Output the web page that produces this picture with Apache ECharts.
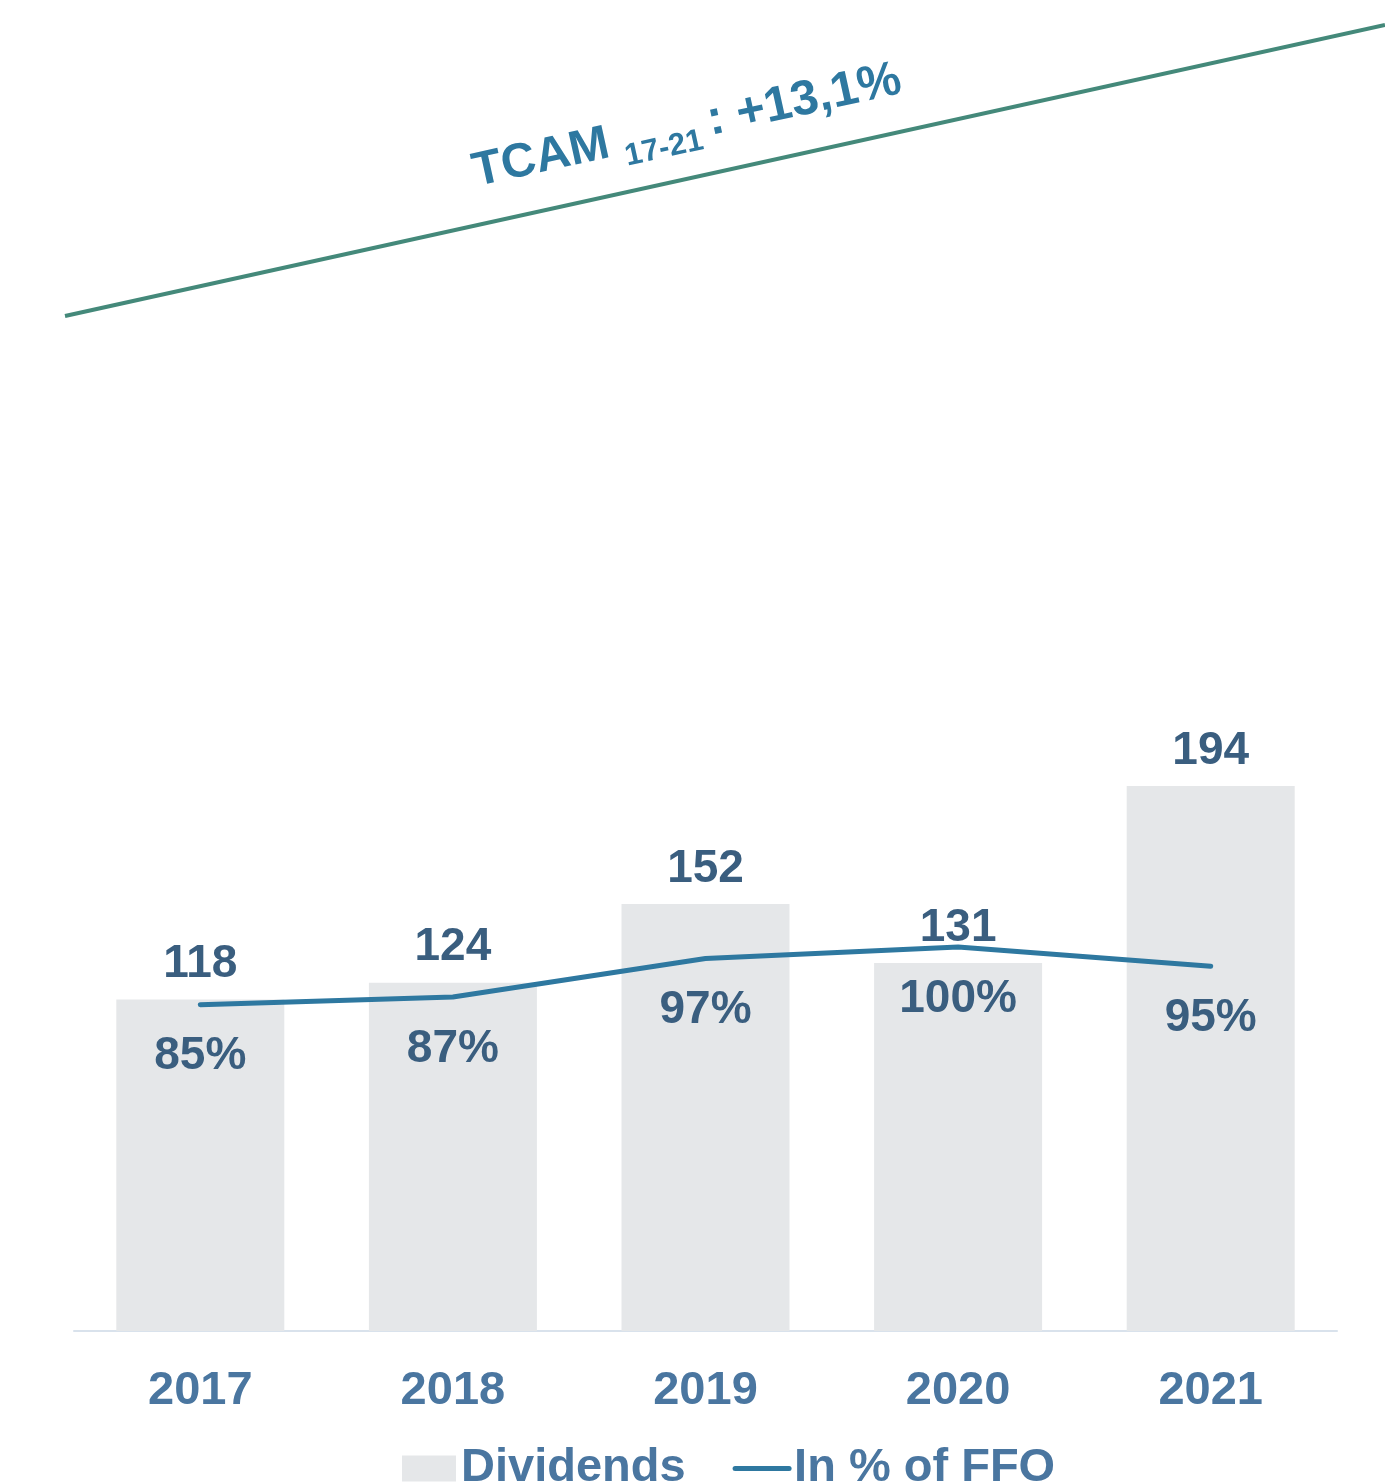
<!DOCTYPE html>
<html>
<head>
<meta charset="utf-8">
<script src="https://cdn.jsdelivr.net/npm/echarts@6/dist/echarts.min.js"></script>
<style>
  html, body { margin: 0; padding: 0; background: #fff; }
  #chart { width: 1385px; height: 1484px; }
</style>
</head>
<body>
<div id="chart"></div>
<script>
const years = ['2017', '2018', '2019', '2020', '2021']
const dividends = [118, 124, 152, 131, 194]
const pctOfFfo = [85, 87, 97, 100, 95]

const FONT = '"Liberation Sans", Arial, sans-serif'
const labelDark = '#3a5e7f'
const labelLight = '#4a76a0'
const lineBlue = '#2e78a0'
const barGrey = '#e5e7e9'
const tilt = 12.4 * Math.PI / 180

const chart = echarts.init( document.getElementById( 'chart' ) )

chart.setOption( {
  backgroundColor : '#fff',
  animation : false,
  textStyle : { fontFamily : FONT },
  grid : {
    left : 74,
    right : 48,
    top : 100,
    bottom : 153
  },
  legend : {
    data : [
      { name : 'Dividends', icon : 'rect' },
      {
        name : 'In % of FFO',
        itemStyle : { opacity : 0 },
        lineStyle : { width : 5, color : lineBlue, cap : 'round' }
      }
    ],
    left : 397,
    top : 1440,
    itemWidth : 54,
    itemHeight : 26,
    itemGap : 47,
    textStyle : {
      fontSize : 47,
      fontWeight : 'bold',
      color : labelLight,
      fontFamily : FONT
    }
  },
  xAxis : {
    type : 'category',
    data : years,
    axisLine : { lineStyle : { color : '#d9e2ec', width : 2 } },
    axisTick : { show : false },
    axisLabel : {
      margin : 37,
      fontSize : 47,
      fontWeight : 'bold',
      color : labelLight,
      fontFamily : FONT
    }
  },
  yAxis : [
    { type : 'value', min : 0, max : 438.2, show : false, splitLine : { show : false } },
    { type : 'value', min : 0, max : 320.6, show : false, splitLine : { show : false } }
  ],
  series : [
    {
      name : 'Dividends',
      type : 'bar',
      data : dividends,
      barWidth : 168,
      itemStyle : { color : barGrey },
      label : {
        show : true,
        position : 'top',
        distance : 12,
        fontSize : 46,
        fontWeight : 'bold',
        color : labelDark,
        fontFamily : FONT
      }
    },
    {
      name : 'In % of FFO',
      type : 'line',
      yAxisIndex : 1,
      data : pctOfFfo,
      symbol : 'none',
      lineStyle : { color : lineBlue, width : 5, cap : 'round' },
      itemStyle : { color : lineBlue },
      z : 3
    },
    {
      // labels for the percentage line
      name : 'pct labels',
      type : 'scatter',
      yAxisIndex : 1,
      data : pctOfFfo,
      symbolSize : 0,
      itemStyle : { color : 'transparent', opacity : 1 },
      label : {
        show : true,
        position : 'bottom',
        distance : 29,
        formatter : p => p.value + '%',
        fontSize : 46,
        fontWeight : 'bold',
        color : labelDark,
        opacity : 1,
        fontFamily : FONT
      },
      z : 4
    }
  ],
  graphic : [
    {
      type : 'line',
      shape : { x1 : 65, y1 : 316, x2 : 1385, y2 : 25 },
      style : { stroke : '#44897a', lineWidth : 4 }
    },
    {
      type : 'group',
      x : 477,
      y : 190,
      rotation : tilt,
      children : [
        {
          type : 'text',
          x : 0,
          y : -17,
          style : {
            text : 'TCAM',
            fill : lineBlue,
            font : 'bold 48px ' + FONT,
            align : 'left',
            verticalAlign : 'middle'
          }
        },
        {
          type : 'text',
          x : 152,
          y : 0,
          style : {
            text : '17-21',
            fill : lineBlue,
            font : 'bold 31px ' + FONT,
            align : 'left',
            verticalAlign : 'middle'
          }
        },
        {
          type : 'text',
          x : 240,
          y : -17,
          style : {
            text : ': +13,1%',
            fill : lineBlue,
            font : 'bold 49px ' + FONT,
            align : 'left',
            verticalAlign : 'middle'
          }
        }
      ]
    }
  ]
} )
</script>
</body>
</html>
